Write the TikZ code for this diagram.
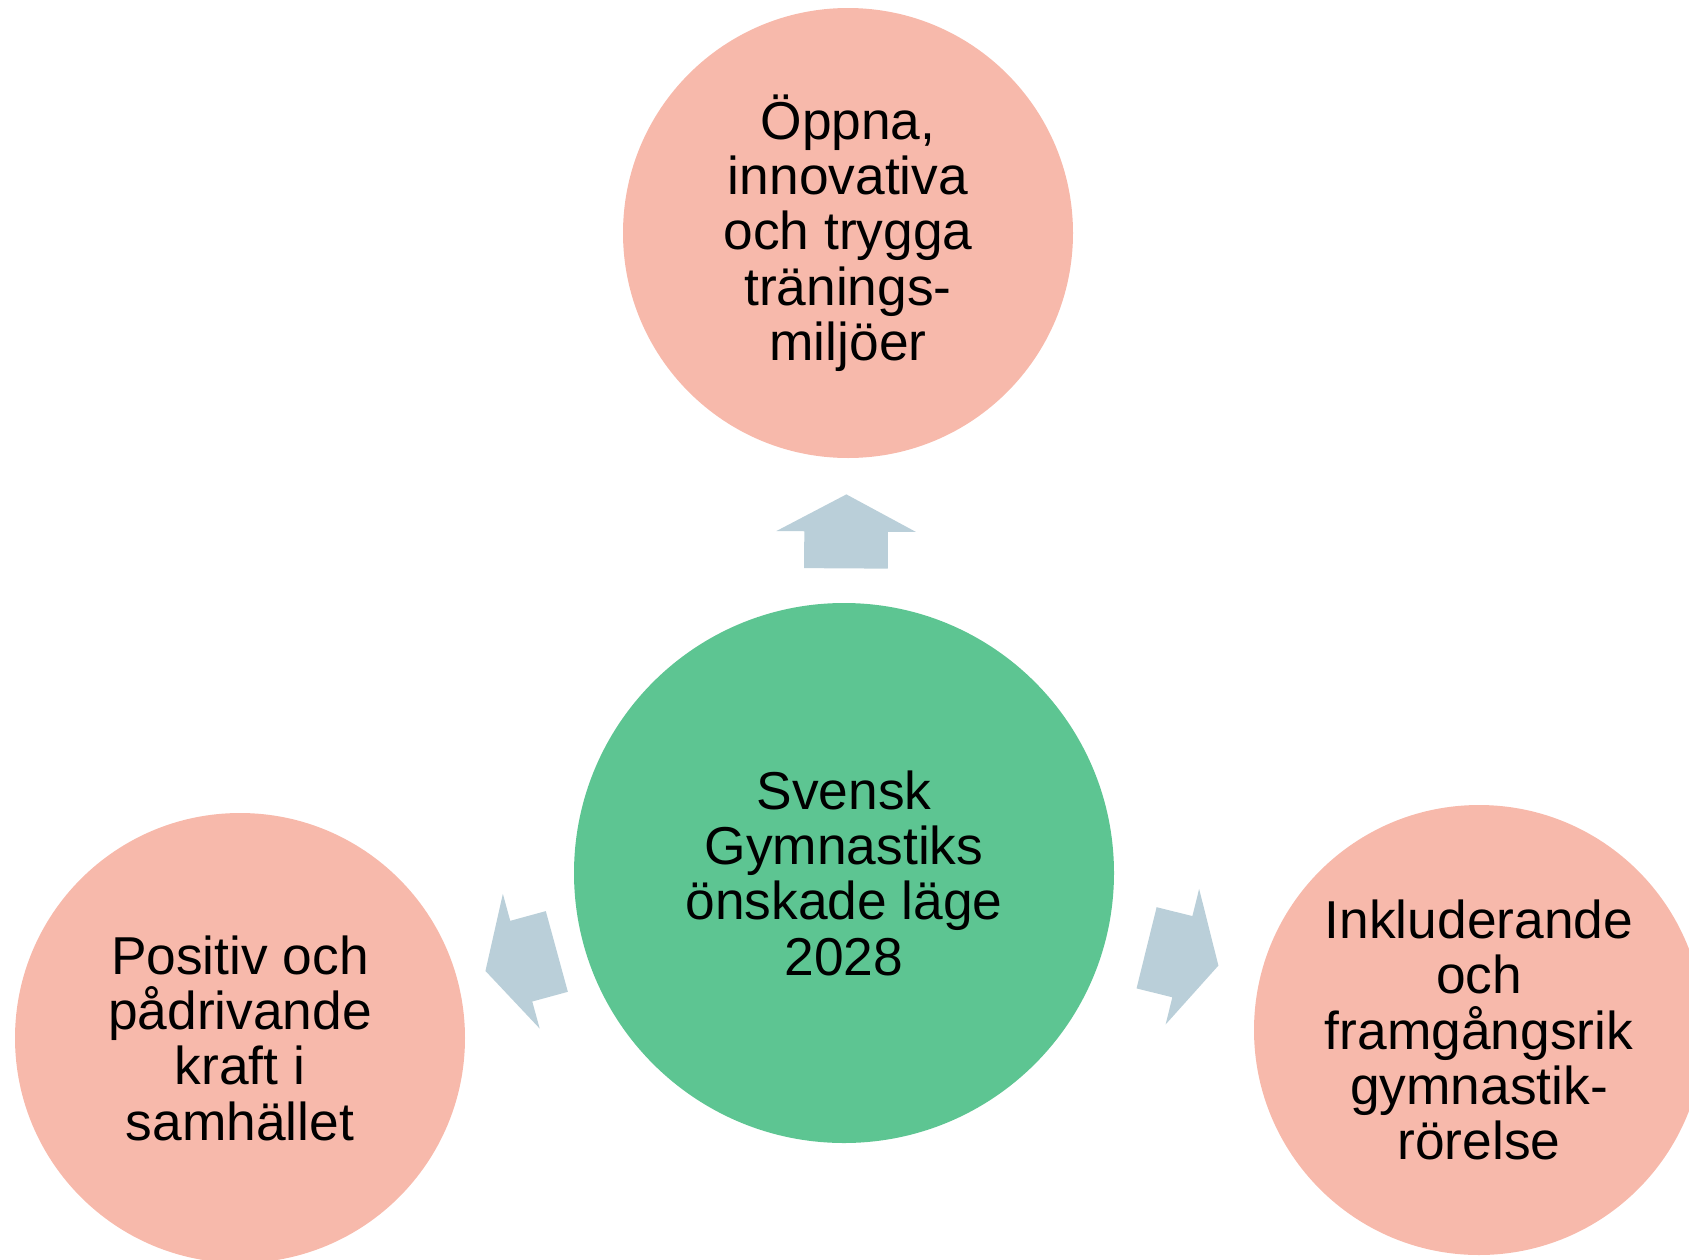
\documentclass[tikz,border=0pt]{standalone}
\usepackage{fontspec}
\setmainfont{Liberation Sans}
\usetikzlibrary{shapes.arrows}

\definecolor{pinkfill}{RGB}{247,185,171}
\definecolor{hubgreen}{RGB}{93,197,146}
\definecolor{arrowblue}{RGB}{186,207,217}

\tikzset{every picture/.style={line width=0.75pt}}
\tikzset{
  bubble/.style={circle, fill=pinkfill, draw=none, inner sep=0pt, minimum size=337.5pt,
    align=center, font=\fontsize{40}{41.5}\selectfont},
  hubbubble/.style={bubble, fill=hubgreen, minimum size=405pt},
  blockarrow/.style={single arrow, fill=arrowblue, draw=none, inner xsep=0pt, inner ysep=31pt,
    minimum height=55.5pt, single arrow head extend=21pt,
    single arrow tip angle=124, sloped, allow upside down, xshift=-9pt}
}

\begin{document}
\begin{tikzpicture}[x=0.75pt,y=0.75pt,yscale=-1,xscale=1]
\useasboundingbox (0,0) rectangle (1689,1260);
\clip (0,0) rectangle (1689,1260);

%Shape: Circle (centre)
\node [hubbubble] (hub) at (844,873) {Svensk\\Gymnastiks\\önskade läge\\2028};
%Shape: Circle (top)
\node [bubble] (miljo) at (848,233) {Öppna,\\innovativa\\och trygga\\tränings-\\miljöer};
%Shape: Circle (right)
\node [bubble] (rorelse) at (1479,1030) {Inkluderande\\och\\framgångsrik\\gymnastik-\\rörelse};
%Shape: Circle (left)
\node [bubble] (samhalle) at (240,1038) {Positiv och\\pådrivande\\kraft i\\samhället};

%Block Arrows
\begin{scope}[yscale=-1]
\path (hub) -- (miljo) node [blockarrow, midway] (pilupp) {};
\path (hub) -- (rorelse) node [blockarrow, midway] (pilhoger) {};
\path (hub) -- (samhalle) node [blockarrow, midway] (pilvanster) {};
\end{scope}

\end{tikzpicture}
\end{document}
